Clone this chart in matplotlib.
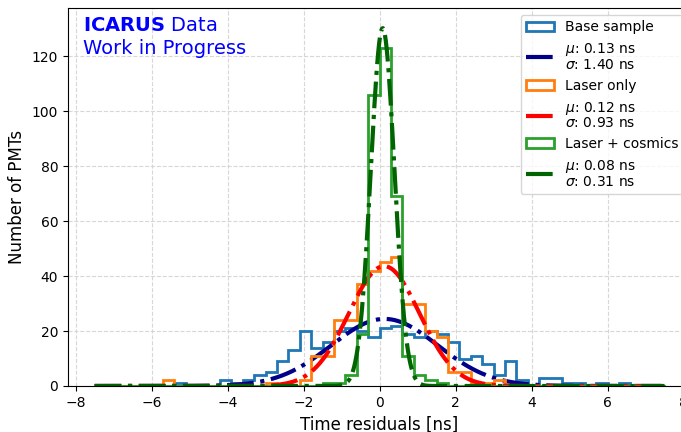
import numpy as np
import matplotlib.pyplot as plt

# bins: 0.3 ns wide from -7.5 to 7.5 ns
bin_edges = np.linspace(-7.5, 7.5, 51)

base_counts = [0, 0, 0, 0, 0, 0, 0, 1, 0, 0,
               0, 2, 1, 2, 4, 5, 9, 13, 20, 14,
               16, 20, 21, 20, 18, 21, 22, 19, 18, 20,
               19, 16, 10, 11, 8, 4, 9, 2, 0, 3,
               3, 1, 1, 0, 1, 0, 1, 0, 0, 0]
laser_counts = [0, 0, 0, 0, 0, 0, 2, 0, 0, 0,
                0, 0, 0, 0, 0, 1, 0, 0, 2, 11,
                11, 24, 24, 37, 42, 45, 47, 30, 30, 20,
                18, 5, 5, 1, 1, 2, 0, 0, 0, 0,
                0, 0, 0, 0, 0, 0, 0, 0, 0, 0]
cosmic_counts = [0, 0, 0, 0, 0, 0, 0, 0, 0, 0,
                 0, 0, 0, 0, 0, 0, 0, 0, 0, 0,
                 1, 1, 4, 19, 106, 123, 69, 11, 4, 2,
                 1, 0, 0, 0, 0, 0, 0, 0, 0, 0,
                 0, 0, 0, 0, 0, 0, 0, 0, 0, 0]

# gaussian fit results (amplitude, mean, sigma)
base_fit = (24.4, 0.13, 1.40)
laser_fit = (43.6, 0.12, 0.93)
cosmic_fit = (130.2, 0.08, 0.31)

labels = ["Base sample", "Laser only", "Laser + cosmics"]
hist_colors = ["tab:blue", "tab:orange", "tab:green"]
fit_colors = ["darkblue", "red", "darkgreen"]


def gauss(x, a, mu, sigma):
    return a * np.exp(-0.5 * ((x - mu) / sigma) ** 2)


def main():
    fig = plt.figure(figsize=(6.81, 4.32), dpi=100)
    ax = fig.add_axes([0.0999, 0.1065, 0.915, 0.875])

    centers = 0.5 * (bin_edges[1:] + bin_edges[:-1])
    xs = np.linspace(-7.5, 7.5, 600)

    for counts, fit, lab, hc, fc in zip([base_counts, laser_counts, cosmic_counts],
                                        [base_fit, laser_fit, cosmic_fit],
                                        labels, hist_colors, fit_colors):
        ax.hist(centers, bins=bin_edges, weights=counts, histtype="step",
                color=hc, linewidth=2, label=lab)
        a, mu, sigma = fit
        ax.plot(xs, gauss(xs, a, mu, sigma), linestyle="-.", color=fc, linewidth=3,
                label=f"$\\mu$: {mu:.2f} ns\n$\\sigma$: {sigma:.2f} ns")

    ax.set_xlim(-8.2, 8.2)
    ax.set_ylim(0, 137.5)
    ax.set_xticks(np.arange(-8, 9, 2))
    ax.set_xlabel("Time residuals [ns]", fontsize=12)
    ax.set_ylabel("Number of PMTs", fontsize=12)
    ax.tick_params(labelsize=10)
    ax.grid(True, linestyle="--", color="lightgray", alpha=0.9)
    ax.set_axisbelow(True)

    ax.text(0.024, 0.978, r"$\mathbf{ICARUS}$ Data", transform=ax.transAxes,
            color="blue", fontsize=14, va="top", ha="left")
    ax.text(0.024, 0.918, "Work in Progress", transform=ax.transAxes,
            color="blue", fontsize=14, va="top", ha="left")

    leg = ax.legend(loc="upper right", fontsize=10)
    for t in leg.get_texts():
        t.set_linespacing(0.95)

    fig.savefig("out.png", dpi=100)
    plt.close()


if __name__ == "__main__":
    main()
